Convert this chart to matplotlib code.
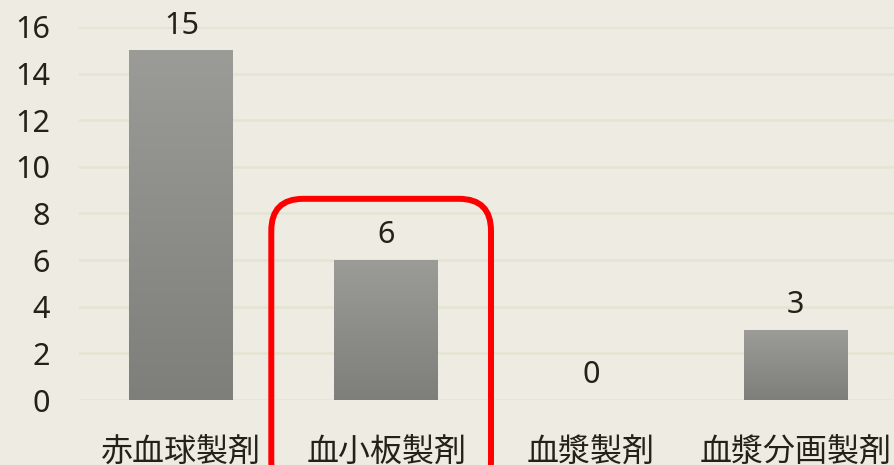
import numpy as np
import matplotlib.pyplot as plt
from matplotlib.colors import LinearSegmentedColormap
from matplotlib.patches import FancyBboxPatch

plt.rcParams['font.family'] = ['Noto Sans', 'Noto Sans CJK JP', 'DejaVu Sans']

categories = ["赤血球製剤", "血小板製剤", "血漿製剤", "血漿分画製剤"]
counts = [15, 6, 0, 3]
yticks = [0, 2, 4, 6, 8, 10, 12, 14, 16]

bg = "#eeebe3"
text_color = "#222218"

fig = plt.figure(figsize=(8.94, 4.65), dpi=100, facecolor=bg)
ax = fig.add_axes([79 / 894, 65 / 465, 1 - 79 / 894, (400 - 27) / 465])
ax.set_facecolor(bg)

x = np.arange(len(categories))
bars = ax.bar(x, counts, width=0.507, color="none", zorder=3)

# vertical gradient inside each bar
cmap = LinearSegmentedColormap.from_list("bar", ["#7e7f7a", "#9b9c97"])
grad = np.linspace(0, 1, 256).reshape(-1, 1)
for b in bars:
    h = b.get_height()
    if h <= 0:
        continue
    x0 = b.get_x()
    im = ax.imshow(grad, cmap=cmap, origin="lower", aspect="auto",
                   extent=(x0, x0 + b.get_width(), 0, h), zorder=3)
    im.set_clip_path(b)

for xi, v in zip(x, counts):
    ax.annotate(str(v), (xi, v), xytext=(0, 12), textcoords="offset points",
                ha="center", va="baseline", fontsize=22, color=text_color,
                annotation_clip=False)

ax.set_xlim(-0.5, 3.48)
ax.set_ylim(0, 16)
ax.set_yticks(yticks)
ax.set_xticks(x)
ax.set_xticklabels(categories, fontsize=23, color=text_color,
                   family=['Noto Sans CJK JP', 'DejaVu Sans'])
ax.tick_params(axis="x", length=0, pad=26)
ax.tick_params(axis="y", length=0, pad=21, labelsize=22, labelcolor=text_color)
ax.grid(axis="y", color="#e3e5d2", linewidth=1.8, zorder=0)
ax.set_axisbelow(True)
for s in ax.spines.values():
    s.set_visible(False)

# rounded red frame around the platelet column, drawn in inches
(px0, py0) = ax.transData.transform((0.439, -4.0)) / fig.dpi
(px1, py1) = ax.transData.transform((1.512, 8.63)) / fig.dpi
box = FancyBboxPatch((px0, py0), px1 - px0, py1 - py0,
                     boxstyle="round,pad=0,rounding_size=0.32",
                     transform=fig.dpi_scale_trans,
                     linewidth=4.3, edgecolor="#ff0000", facecolor="none",
                     clip_on=False, zorder=5)
fig.add_artist(box)

fig.savefig("out.png", dpi=100, facecolor=bg)
